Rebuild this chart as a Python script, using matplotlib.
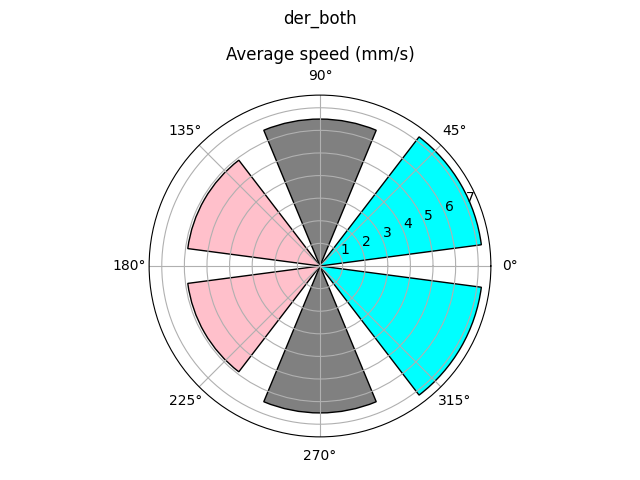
import numpy as np
import matplotlib
matplotlib.use("Agg")
import matplotlib.pyplot as plt

angles_deg = [30, 90, 150, 210, 270, 330]
speeds = [7.2, 6.5, 5.9, 5.9, 6.5, 7.2]
colors = ["cyan", "gray", "pink", "pink", "gray", "cyan"]

fig = plt.figure(figsize=(6.4, 4.8), dpi=100)
ax = fig.add_axes([0.233, 0.0896, 0.534, 0.7125], projection="polar")
ax.bar(np.deg2rad(angles_deg), speeds, width=np.pi / 4, color=colors, edgecolor="black")
ax.set_title("Average speed (mm/s)")
fig.suptitle("der_both")
fig.savefig("out.png")
